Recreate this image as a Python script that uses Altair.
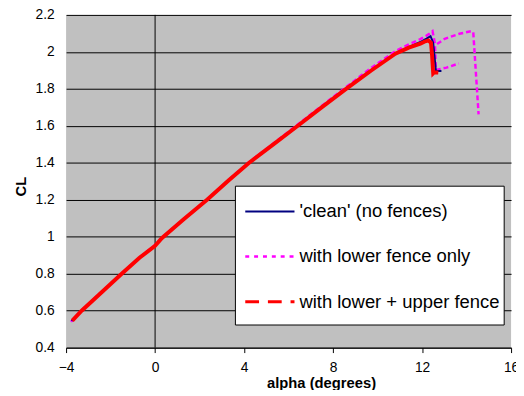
import altair as alt
import pandas as pd

series_names = ["'clean' (no fences)", "with lower fence only", "with lower + upper fence"]
series_colors = ["#000080", "#FF00FF", "#FF0000"]

# 'clean' (no fences)
clean_alpha = [-3.75, -3.3, -2.4, -1.5, -0.7, 0.0, 0.3, 1.3, 2.35, 3.3, 4.2, 5.3, 6.4, 7.5, 8.6,
               9.7, 10.8, 11.4, 11.9, 12.2, 12.38, 12.5, 12.58, 12.62, 12.87]
clean_cl = [0.545, 0.600, 0.700, 0.800, 0.885, 0.952, 0.990, 1.095, 1.200, 1.303, 1.397, 1.497, 1.598,
            1.700, 1.800, 1.898, 1.990, 2.026, 2.052, 2.072, 2.085, 2.05, 1.95, 1.897, 1.897]

# with lower fence only (two traces)
lower_alpha = [-3.78, -3.3, -2.4, -1.5, -0.7, 0.0, 0.3, 1.3, 2.35, 3.3, 4.2, 5.3, 6.4, 7.5, 8.6,
               9.7, 10.8, 11.4, 11.9, 12.2, 12.35, 12.47, 12.58, 12.65, 13.02, 13.68, 14.2, 14.3, 14.54]
lower_cl = [0.540, 0.602, 0.702, 0.802, 0.888, 0.955, 0.993, 1.098, 1.203, 1.306, 1.401, 1.503, 1.606,
            1.709, 1.811, 1.912, 2.004, 2.040, 2.068, 2.088, 2.100, 2.112, 2.044, 2.041, 2.071, 2.098,
            2.112, 2.107, 1.662]
lower2_alpha = [12.58, 12.62, 13.1, 13.65]
lower2_cl = [2.03, 1.902, 1.915, 1.937]

# with lower + upper fence
upper_alpha = [-3.72, -3.3, -2.4, -1.5, -0.7, 0.0, 0.3, 1.3, 2.35, 3.3, 4.2, 5.3, 6.4, 7.5, 8.6,
               9.7, 10.8, 11.4, 11.92, 12.1, 12.28, 12.4, 12.45, 12.5, 12.55, 12.73]
upper_cl = [0.546, 0.600, 0.700, 0.800, 0.886, 0.951, 0.992, 1.096, 1.201, 1.304, 1.398, 1.498, 1.599,
            1.701, 1.801, 1.898, 1.990, 2.023, 2.044, 2.055, 2.062, 2.050, 1.980, 1.884, 1.890, 1.888]

x_ticks = [-4, 0, 4, 8, 12, 16]
y_ticks = [0.4, 0.6, 0.8, 1.0, 1.2, 1.4, 1.6, 1.8, 2.0, 2.2]

rows = []
def add(name, seg, xs, ys):
    for i, (a, c) in enumerate(zip(xs, ys)):
        rows.append({"series": name, "seg": seg, "order": i, "alpha": a, "cl": c})

add(series_names[0], 0, clean_alpha, clean_cl)
add(series_names[1], 0, lower_alpha, lower_cl)
add(series_names[1], 1, lower2_alpha, lower2_cl)
add(series_names[2], 0, upper_alpha, upper_cl)
df = pd.DataFrame(rows)

FONT = "Liberation Sans"

x_enc = alt.X("alpha:Q", scale=alt.Scale(domain=[-4, 16], nice=False),
              axis=alt.Axis(values=x_ticks, title="alpha (degrees)", grid=False,
                            domain=True, domainColor="black", domainWidth=1,
                            ticks=True, tickColor="black", tickSize=5, tickWidth=1,
                            labelPadding=8, labelFontSize=14, labelFont=FONT, labelColor="black",
                            titleFont=FONT, titleFontSize=15, titleFontWeight="bold", titleColor="black",
                            titleX=259, titleY=35, titleBaseline="middle", titleAlign="center",
                            labelFlush=False, labelOverlap=False))
y_enc = alt.Y("cl:Q", scale=alt.Scale(domain=[0.4, 2.2], nice=False, zero=False),
              axis=alt.Axis(values=y_ticks, title="CL", grid=True, gridColor="black", gridWidth=1,
                            gridOpacity=1, domain=False, ticks=False, format="~g",
                            labelPadding=12, labelFontSize=14, labelFont=FONT, labelColor="black",
                            titleFont=FONT, titleFontSize=15, titleFontWeight="bold", titleColor="black",
                            titleX=-46, titleY=174, titleBaseline="middle", titleAlign="center",
                            labelFlush=False, labelOverlap=False))
color_enc = alt.Color("series:N", scale=alt.Scale(domain=series_names, range=series_colors), legend=None)

base = alt.Chart(df)

zero_rule = alt.Chart(pd.DataFrame({"alpha": [0]})).mark_rule(color="black", strokeWidth=1).encode(
    x=alt.X("alpha:Q"))

magenta = base.transform_filter(alt.datum.series == series_names[1]).mark_line(
    strokeWidth=2.5, strokeDash=[5, 3]).encode(x=x_enc, y=y_enc, color=color_enc,
                                               detail="seg:N", order="order:Q")
blue = base.transform_filter(alt.datum.series == series_names[0]).mark_line(
    strokeWidth=2).encode(x=x_enc, y=y_enc, color=color_enc, order="order:Q")
red = base.transform_filter(alt.datum.series == series_names[2]).mark_line(
    strokeWidth=4).encode(x=x_enc, y=y_enc, color=color_enc, order="order:Q")

one = pd.DataFrame({"k": [0]})
legend_box = alt.Chart(one).mark_rect(fill="white", stroke="black", strokeWidth=1).encode(
    x=alt.value(172), x2=alt.value(445), y=alt.value(174), y2=alt.value(315))

row_y = [199.7, 245.3, 291.3]
dashes = [[1, 0], [4, 5], [14, 9]]
widths = [2, 2.5, 3]
legend_layers = [legend_box]
for name, col, dsh, w, yy in zip(series_names, series_colors, dashes, widths, row_y):
    legend_layers.append(alt.Chart(one).mark_rule(color=col, strokeWidth=w, strokeDash=dsh).encode(
        x=alt.value(182), x2=alt.value(232), y=alt.value(yy)))
    legend_layers.append(alt.Chart(one).mark_text(text=name, align="left", baseline="middle",
                                                  font=FONT, fontSize=18.7, color="black").encode(
        x=alt.value(237), y=alt.value(yy)))

chart = alt.layer(zero_rule, magenta, blue, red, *legend_layers).properties(
    width=452, height=338,
    autosize=alt.AutoSizeParams(type="none"),
    padding={"left": 59, "top": 4, "right": 5, "bottom": 40},
    background="white",
).configure_view(fill="#C0C0C0", stroke=None)

chart.save("out.html", embed_options={"renderer": "svg", "actions": False})
